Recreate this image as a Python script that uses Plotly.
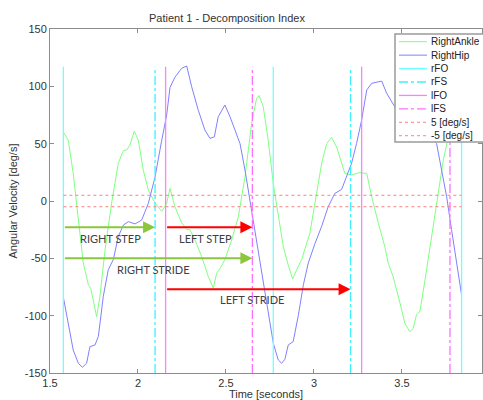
import plotly.graph_objects as go

# ---------------- data ----------------
t_ankle = [1.576, 1.590, 1.604, 1.632, 1.661, 1.689, 1.718, 1.731, 1.748, 1.765, 1.784, 1.8125,
           1.850, 1.888, 1.917, 1.936, 1.955, 1.979, 2.002, 2.030, 2.059, 2.097, 2.135, 2.163,
           2.182, 2.210, 2.248, 2.277, 2.295, 2.324, 2.362, 2.400, 2.428, 2.447, 2.466, 2.494,
           2.532, 2.570, 2.608, 2.646, 2.674, 2.689, 2.712, 2.740, 2.769, 2.797, 2.826, 2.854,
           2.879, 2.902, 2.930, 2.977, 3.015, 3.044, 3.072, 3.100, 3.129, 3.157, 3.176, 3.214,
           3.261, 3.300, 3.328, 3.366, 3.403, 3.422, 3.450, 3.489, 3.517, 3.545, 3.564, 3.583,
           3.602, 3.631, 3.669, 3.706, 3.735, 3.754, 3.780, 3.810, 3.839]
v_ankle = [60, 57, 53, 24, -14, -54, -73, -76, -88, -101, -83, -43,
           -2, 33, 44, 44.5, 49, 61, 53, 27, 9.6, -2, -9, -2,
           11, -5, -19, -25, -25, -34, -48.5, -66, -76, -63, -59, -51,
           -34, -14, 21, 68, 89.5, 92, 82, 53, 15, -14, -40, -56,
           -68, -60, -51, -28, 6.7, 33, 50, 55.5, 47, 33, 24, 22.7,
           24.7, 24, 3.8, -19.5, -40, -54, -66, -89, -107, -114, -111, -99,
           -96.5, -69, -31, 6.7, 35.7, 49, 80, 92, 75]

t_hip = [1.576, 1.604, 1.632, 1.661, 1.684, 1.708, 1.727, 1.756, 1.775, 1.803, 1.831, 1.860,
         1.888, 1.917, 1.945, 1.983, 2.021, 2.059, 2.097, 2.135, 2.163, 2.182, 2.210, 2.248,
         2.277, 2.305, 2.343, 2.380, 2.409, 2.434, 2.456, 2.494, 2.523, 2.551, 2.580, 2.608,
         2.636, 2.665, 2.703, 2.740, 2.769, 2.797, 2.816, 2.835, 2.854, 2.882, 2.911, 2.940,
         2.968, 3.006, 3.044, 3.081, 3.119, 3.157, 3.186, 3.214, 3.242, 3.271, 3.300, 3.328,
         3.385, 3.413, 3.460, 3.520, 3.600, 3.660, 3.697, 3.725, 3.754, 3.782, 3.811, 3.839]
v_hip = [-84, -107, -130, -141.5, -145, -141.5, -127, -125.5, -118, -83, -60, -51,
         -31, -21, -18, -20, -16.6, -2, 21, 53, 75, 99, 108, 115.7,
         117.7, 99.7, 79, 62, 54.6, 56, 73.5, 83.7, 73.5, 62, 50, 27,
         1, -25, -60, -98, -124, -138.6, -141.5, -138, -125.5, -122.6, -100, -73,
         -54, -37, -22, -5, 6.7, 10, 21, 33, 50, 70.6, 96.8, 102.6,
         104.6, 94, 82, 70, 62, 58, 50, 27, 3.8, -25, -54, -82]

rFO = [1.576, 2.769, 3.839]
rFS = [2.097, 3.208]
lFO = [2.157, 3.271]
lFS = [2.650, 3.773]
event_ymin, event_ymax = -150, 117
threshold = 5

x_ticks = [1.5, 2, 2.5, 3, 3.5]
y_ticks = [150, 100, 50, 0, -50, -100, -150]

# arrows: (label, t_start, t_end, y, colour, label_t, label_y)
arrows = [
    ("RIGHT STEP", rFO[0], rFS[0], -23, "#8cc63f", 1.841, -33),
    ("LEFT STEP", lFO[0], lFS[0], -23, "#ff0000", 2.381, -33),
    ("RIGHT STRIDE", rFO[0], lFS[0], -50, "#8cc63f", 2.09, -60),
    ("LEFT STRIDE", lFO[0], rFS[1], -77, "#ff0000", 2.646, -86),
]

# series styles: (name, colour, dash)
styles = [
    ("RightAnkle", "#80ff80", "solid"),
    ("RightHip", "#8080ff", "solid"),
    ("rFO", "#70ffff", "solid"),
    ("rFS", "#40f0ff", "dashdot"),
    ("lFO", "#ff80ff", "solid"),
    ("lFS", "#ff70ff", "dashdot"),
    ("5 [deg/s]", "#ff8080", "dot"),
    ("-5 [deg/s]", "#ff8080", "dot"),
]

# ---------------- figure ----------------
W, H = 483, 400
ML, MR, MT, MB = 50, 1, 29, 27
PW, PH = W - ML - MR, H - MT - MB


def px_x(p):
    return (p - ML) / PW


def px_y(p):
    return (H - MB - p) / PH


def vlines(ts):
    xs, ys = [], []
    for t in ts:
        xs += [t, t, None]
        ys += [event_ymin, event_ymax, None]
    return xs, ys


t0, t1 = t_ankle[0], t_ankle[-1]
fig = go.Figure()
series = [
    (t_ankle, v_ankle),
    (t_hip, v_hip),
    vlines(rFO), vlines(rFS), vlines(lFO), vlines(lFS),
    ([t0, t1], [threshold, threshold]),
    ([t0, t1], [-threshold, -threshold]),
]
for (name, col, dash), (xs, ys) in zip(styles, series):
    w = 1.3 if name[0] in "rl" else 1
    fig.add_trace(go.Scatter(x=xs, y=ys, mode="lines", name=name,
                             line=dict(color=col, width=w, dash=dash)))

for label, ts, te, y, col, lt, ly in arrows:
    fig.add_annotation(x=te, y=y, ax=ts, ay=y, xref="x", yref="y", axref="x", ayref="y",
                       text="", showarrow=True, arrowhead=2, arrowsize=1.2, arrowwidth=2,
                       arrowcolor=col, standoff=0, startstandoff=0)
    fig.add_annotation(x=lt, y=ly, xref="x", yref="y", text=label, showarrow=False,
                       font=dict(family="Lato", size=11, color="#404040"))

# legend box (MATLAB style, running to the figure edge as in the original)
fig.add_shape(type="rect", xref="paper", yref="paper",
              x0=px_x(395), x1=px_x(500), y0=px_y(142), y1=px_y(34),
              line=dict(color="#9a9a9a", width=1.5), fillcolor="white", layer="above")
entry_y0, entry_dy = 41.7, 13.43
for i, (name, col, dash) in enumerate(styles):
    py = entry_y0 + i * entry_dy
    fig.add_shape(type="line", xref="paper", yref="paper",
                  x0=px_x(399), x1=px_x(427), y0=px_y(py), y1=px_y(py),
                  line=dict(color=col, width=1.3 if name[0] in "rl" else 1, dash=dash),
                  layer="above")
    fig.add_annotation(x=px_x(429), y=px_y(py), xref="paper", yref="paper", text=name,
                       showarrow=False, xanchor="left", yanchor="middle",
                       font=dict(family="Liberation Sans, Arial", size=10, color="#222222"))

axis_common = dict(showline=True, linecolor="#8c8c8c", linewidth=1, mirror="ticks",
                   ticks="inside", ticklen=4, tickcolor="#8c8c8c", showgrid=False,
                   zeroline=False, tickfont=dict(family="Liberation Sans, Arial", size=11,
                                                 color="#333333"))
fig.update_xaxes(range=[1.5, 3.955], tickvals=x_ticks, ticktext=[str(v) for v in x_ticks],
                 title=dict(text="Time [seconds]", standoff=2,
                            font=dict(family="Liberation Sans, Arial", size=11, color="#333333")),
                 **axis_common)
fig.update_yaxes(range=[-150, 150], tickvals=y_ticks, ticktext=[str(v) for v in y_ticks],
                 title=dict(text="Angular Velocity [deg/s]", standoff=4,
                            font=dict(family="Liberation Sans, Arial", size=11, color="#333333")),
                 **axis_common)

fig.update_layout(
    width=W, height=H,
    margin=dict(l=ML, r=MR, t=MT, b=MB, autoexpand=False),
    paper_bgcolor="white", plot_bgcolor="white",
    title=dict(text="Patient 1 - Decomposition Index", x=px_x(227), xref="paper",
               xanchor="center", y=1 - 18 / H, yanchor="middle",
               font=dict(family="Liberation Sans, Arial", size=11, color="#333333")),
    showlegend=False,
)

fig.write_html("out.html")
